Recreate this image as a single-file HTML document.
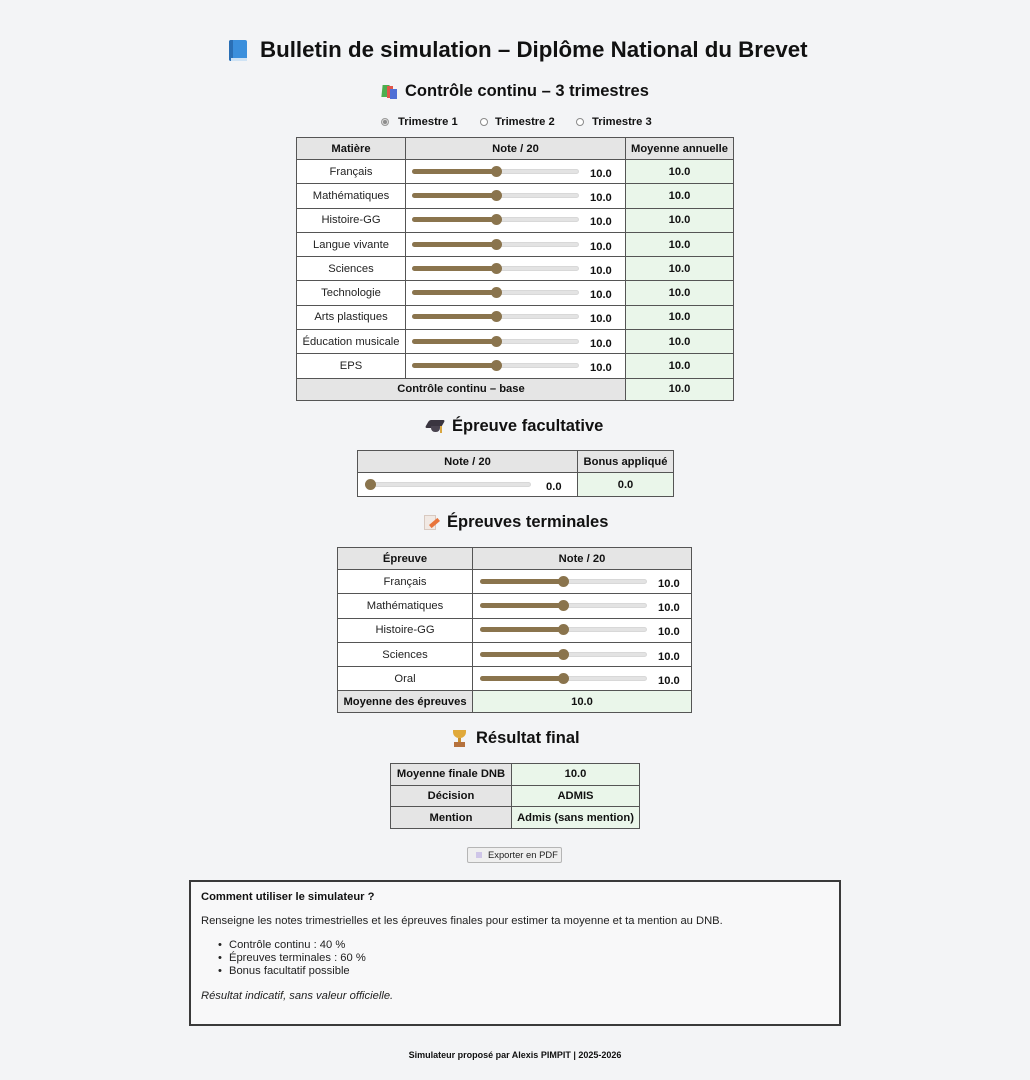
<!DOCTYPE html>
<html><head><meta charset="utf-8"><style>
*{margin:0;padding:0;box-sizing:border-box}
html,body{width:1030px;height:1080px;background:#f3f4f6;font-family:"Liberation Sans",Arial,sans-serif;color:#111;overflow:hidden}
.abs{position:absolute}
.title{position:absolute;left:260px;top:36px;height:28px;line-height:28px;font-size:22.3px;font-weight:bold;white-space:nowrap}
.h2{position:absolute;height:22px;line-height:22px;font-size:16.5px;font-weight:bold;white-space:nowrap}
.grid{position:absolute;display:grid;gap:1px;background:#555;border:1px solid #555}
.grid>div{background:#fff;display:flex;align-items:center;justify-content:center;font-size:11.2px;color:#222;white-space:nowrap;position:relative}
.grid>div.h{background:#e5e5e5;font-weight:bold;color:#111}
.grid>div.g{background:#eaf6ea;font-weight:bold;color:#111}
.sl i{position:absolute;display:block}
.sl .tr{top:calc(50% - 3px);height:5px;border-radius:3px;background:#e3e3e3;border:1px solid #d8d8d8}
.sl .fi{top:calc(50% - 3px);height:5px;border-radius:3px;background:#8a744d}
.sl .th{top:calc(50% - 6px);width:11px;height:11px;border-radius:50%;background:#8a744d}
.sl b{position:absolute;top:calc(50% - 5px);font-size:11.2px;line-height:14px;color:#111}
.radio{position:absolute;top:116px;height:12px;line-height:12px;font-size:11.2px;font-weight:bold;white-space:nowrap}
.rc{position:absolute;top:118px;width:8px;height:8px;border-radius:50%;border:1px solid #8a8a8a;background:#fff}
.li{position:absolute;left:229px;line-height:13px;font-size:11.2px;color:#222;white-space:nowrap}
.bu{position:absolute;left:218px;line-height:13px;font-size:11.2px;color:#222}
</style></head><body>

<!-- Title -->
<div class="abs" style="left:229px;top:40px;width:18px;height:21px;border-radius:2px;background:#3b8fdc"></div>
<div class="abs" style="left:229px;top:40px;width:4px;height:21px;border-radius:2px 0 0 2px;background:#2a6fb5"></div>
<div class="abs" style="left:231px;top:58px;width:16px;height:3px;background:#cfe3f5"></div>
<div class="title">Bulletin de simulation – Diplôme National du Brevet</div>

<!-- h2 1 -->
<div class="abs" style="left:382px;top:85px;width:7px;height:12px;background:#4cae4f;transform:skewX(-6deg)"></div>
<div class="abs" style="left:387px;top:86px;width:6px;height:12px;background:#e0564a"></div>
<div class="abs" style="left:390px;top:89px;width:7px;height:10px;background:#4f6fd6"></div>
<div class="h2" style="left:405px;top:80px">Contrôle continu – 3 trimestres</div>

<!-- radios -->
<div class="rc" style="left:381px;background:#ddd;border-color:#999"></div>
<div class="abs" style="left:383px;top:120px;width:4px;height:4px;border-radius:50%;background:#8d8d8d"></div>
<div class="radio" style="left:398px">Trimestre 1</div>
<div class="rc" style="left:480px"></div>
<div class="radio" style="left:495px">Trimestre 2</div>
<div class="rc" style="left:576px"></div>
<div class="radio" style="left:592px">Trimestre 3</div>

<!-- Table 1 -->
<div class="grid" style="left:296px;top:137px;grid-template-columns:108px 219px 107px;grid-template-rows:21px repeat(9,23.3px) 21px">
<div class="h">Matière</div><div class="h">Note / 20</div><div class="h">Moyenne annuelle</div>

<div>Français</div><div class="sl"><i class="tr" style="left:6px;width:167px"></i><i class="fi" style="left:6px;width:85px"></i><i class="th" style="left:85px"></i><b style="left:184px">10.0</b></div><div class="g">10.0</div>
<div>Mathématiques</div><div class="sl"><i class="tr" style="left:6px;width:167px"></i><i class="fi" style="left:6px;width:85px"></i><i class="th" style="left:85px"></i><b style="left:184px">10.0</b></div><div class="g">10.0</div>
<div>Histoire-GG</div><div class="sl"><i class="tr" style="left:6px;width:167px"></i><i class="fi" style="left:6px;width:85px"></i><i class="th" style="left:85px"></i><b style="left:184px">10.0</b></div><div class="g">10.0</div>
<div>Langue vivante</div><div class="sl"><i class="tr" style="left:6px;width:167px"></i><i class="fi" style="left:6px;width:85px"></i><i class="th" style="left:85px"></i><b style="left:184px">10.0</b></div><div class="g">10.0</div>
<div>Sciences</div><div class="sl"><i class="tr" style="left:6px;width:167px"></i><i class="fi" style="left:6px;width:85px"></i><i class="th" style="left:85px"></i><b style="left:184px">10.0</b></div><div class="g">10.0</div>
<div>Technologie</div><div class="sl"><i class="tr" style="left:6px;width:167px"></i><i class="fi" style="left:6px;width:85px"></i><i class="th" style="left:85px"></i><b style="left:184px">10.0</b></div><div class="g">10.0</div>
<div>Arts plastiques</div><div class="sl"><i class="tr" style="left:6px;width:167px"></i><i class="fi" style="left:6px;width:85px"></i><i class="th" style="left:85px"></i><b style="left:184px">10.0</b></div><div class="g">10.0</div>
<div>Éducation musicale</div><div class="sl"><i class="tr" style="left:6px;width:167px"></i><i class="fi" style="left:6px;width:85px"></i><i class="th" style="left:85px"></i><b style="left:184px">10.0</b></div><div class="g">10.0</div>
<div>EPS</div><div class="sl"><i class="tr" style="left:6px;width:167px"></i><i class="fi" style="left:6px;width:85px"></i><i class="th" style="left:85px"></i><b style="left:184px">10.0</b></div><div class="g">10.0</div>
<div class="h" style="grid-column:1 / 3">Contrôle continu – base</div><div class="g">10.0</div>
</div>

<!-- h2 2 -->
<div class="abs" style="left:427px;top:420px;width:16px;height:8px;background:#3a3540;transform:skewX(-30deg);border-radius:2px"></div>
<div class="abs" style="left:431px;top:426px;width:9px;height:6px;background:#4a4450;border-radius:0 0 4px 4px"></div>
<div class="abs" style="left:440px;top:426px;width:2px;height:7px;background:#d9a640"></div>
<div class="h2" style="left:452px;top:415px">Épreuve facultative</div>

<!-- Table 2 -->
<div class="grid" style="left:357px;top:450px;grid-template-columns:219px 95px;grid-template-rows:21px 23px">
<div class="h">Note / 20</div><div class="h">Bonus appliqué</div>
<div class="sl"><i class="tr" style="left:7px;width:166px"></i><i class="th" style="left:7px"></i><b style="left:188px">0.0</b></div><div class="g">0.0</div>
</div>

<!-- h2 3 -->
<div class="abs" style="left:424px;top:515px;width:12px;height:15px;background:#f1e9e4;border:1px solid #d8c9c0"></div>
<div class="abs" style="left:429px;top:521px;width:11px;height:4px;background:#e8743b;transform:rotate(-40deg)"></div>
<div class="h2" style="left:447px;top:511px">Épreuves terminales</div>

<!-- Table 3 -->
<div class="grid" style="left:337px;top:547px;grid-template-columns:134px 218px;grid-template-rows:21px repeat(5,23.3px) 21px">
<div class="h">Épreuve</div><div class="h">Note / 20</div>
<div>Français</div><div class="sl"><i class="tr" style="left:7px;width:167px"></i><i class="fi" style="left:7px;width:83px"></i><i class="th" style="left:85px"></i><b style="left:185px">10.0</b></div>
<div>Mathématiques</div><div class="sl"><i class="tr" style="left:7px;width:167px"></i><i class="fi" style="left:7px;width:83px"></i><i class="th" style="left:85px"></i><b style="left:185px">10.0</b></div>
<div>Histoire-GG</div><div class="sl"><i class="tr" style="left:7px;width:167px"></i><i class="fi" style="left:7px;width:83px"></i><i class="th" style="left:85px"></i><b style="left:185px">10.0</b></div>
<div>Sciences</div><div class="sl"><i class="tr" style="left:7px;width:167px"></i><i class="fi" style="left:7px;width:83px"></i><i class="th" style="left:85px"></i><b style="left:185px">10.0</b></div>
<div>Oral</div><div class="sl"><i class="tr" style="left:7px;width:167px"></i><i class="fi" style="left:7px;width:83px"></i><i class="th" style="left:85px"></i><b style="left:185px">10.0</b></div>
<div class="h">Moyenne des épreuves</div><div class="g">10.0</div>
</div>

<!-- h2 4 -->
<div class="abs" style="left:453px;top:730px;width:13px;height:8px;background:#e0a93a;border-radius:0 0 6px 6px"></div>
<div class="abs" style="left:458px;top:738px;width:3px;height:4px;background:#c98e2a"></div>
<div class="abs" style="left:454px;top:742px;width:11px;height:5px;background:#b5713d"></div>
<div class="h2" style="left:476px;top:727px">Résultat final</div>

<!-- Table 4 -->
<div class="grid" style="left:390px;top:763px;grid-template-columns:120px 127px;grid-template-rows:repeat(3,20.7px)">
<div class="h">Moyenne finale DNB</div><div class="g">10.0</div>
<div class="h">Décision</div><div class="g">ADMIS</div>
<div class="h">Mention</div><div class="g">Admis (sans mention)</div>
</div>

<!-- button -->
<div class="abs" style="left:467px;top:847px;width:95px;height:16px;background:#efefef;border:1px solid #b5b5b5;border-radius:2px"></div>
<div class="abs" style="left:476px;top:852px;width:6px;height:6px;background:#cfc6e8"></div>
<div class="abs" style="left:488px;top:849px;height:12px;line-height:12px;font-size:9.4px;color:#222;white-space:nowrap">Exporter en PDF</div>

<!-- info box -->
<div class="abs" style="left:189px;top:880px;width:652px;height:146px;background:#f8f8f9;border:2px solid #3a3a3a"></div>
<div class="abs" style="left:201px;top:890px;line-height:14px;font-size:11.2px;font-weight:bold;white-space:nowrap">Comment utiliser le simulateur ?</div>
<div class="abs" style="left:201px;top:914px;line-height:14px;font-size:11.2px;color:#222;white-space:nowrap">Renseigne les notes trimestrielles et les épreuves finales pour estimer ta moyenne et ta mention au DNB.</div>
<div class="bu" style="top:939px">•</div><div class="li" style="top:939px">Contrôle continu : 40 %</div>
<div class="bu" style="top:952px">•</div><div class="li" style="top:952px">Épreuves terminales : 60 %</div>
<div class="bu" style="top:965px">•</div><div class="li" style="top:965px">Bonus facultatif possible</div>
<div class="abs" style="left:201px;top:989px;line-height:14px;font-size:11.2px;font-style:italic;color:#222;white-space:nowrap">Résultat indicatif, sans valeur officielle.</div>

<!-- footer -->
<div class="abs" style="left:0;top:1049px;width:1030px;text-align:center;line-height:12px;font-size:9px;font-weight:bold;color:#111">Simulateur proposé par Alexis PIMPIT | 2025-2026</div>

</body></html>
